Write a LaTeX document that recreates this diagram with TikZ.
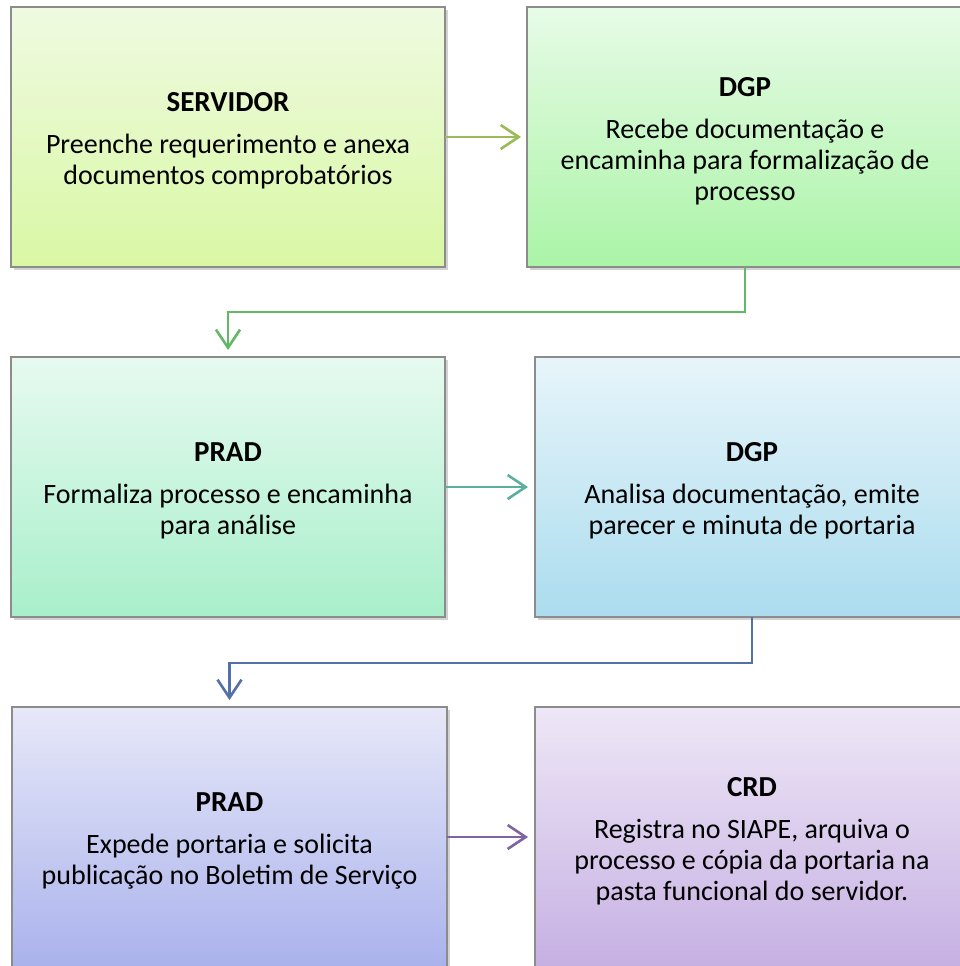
\documentclass[tikz,border=0pt]{standalone}
\usepackage{fontspec}
\setmainfont{Carlito}
\usetikzlibrary{arrows.meta,shadows}
\definecolor{aA}{HTML}{9BBB59}
\definecolor{aB}{HTML}{62B865}
\definecolor{aC}{HTML}{5CAFA0}
\definecolor{aD}{HTML}{5470A8}
\definecolor{aE}{HTML}{8064A2}
\definecolor{t1}{HTML}{EFFAE1}\definecolor{u1}{HTML}{D9F8A4}
\definecolor{t2}{HTML}{E7FBE7}\definecolor{u2}{HTML}{ABF4A6}
\definecolor{t3}{HTML}{E7FAF0}\definecolor{u3}{HTML}{A8EFCB}
\definecolor{t4}{HTML}{E7F5FA}\definecolor{u4}{HTML}{ABDCEE}
\definecolor{t5}{HTML}{E7E8F8}\definecolor{u5}{HTML}{AAB2EC}
\definecolor{t6}{HTML}{EEE7F6}\definecolor{u6}{HTML}{C6B0E3}
\tikzset{
  flowbox/.style={draw=black!45, line width=1.1pt, inner sep=0pt, outer sep=0pt,
    minimum width=#1, minimum height=260pt, align=center,
    font=\fontsize{28}{31}\selectfont,
    drop shadow={opacity=0.35, shadow xshift=3pt, shadow yshift=-3pt}},
  flowbox/.default=434pt,
  conn/.style={line width=2.6pt, -{Straight Barb[length=18pt,width=24pt,line width=2.6pt]}}
}
\newcommand{\ttl}[1]{\rule{0pt}{27pt}{\fontsize{29}{31}\selectfont\textbf{#1}}\\[11pt]}
\begin{document}
\begin{tikzpicture}[x=1pt,y=-1pt]
\clip (0,0) rectangle (960,966);
\useasboundingbox (0,0) rectangle (960,966);
\fill[white] (0,0) rectangle (960,966);
\node[flowbox, top color=t1, bottom color=u1] (b1) at (228,137)
  {\ttl{SERVIDOR}Preenche requerimento e anexa\\documentos comprobatórios};
\node[flowbox=436pt, top color=t2, bottom color=u2] (b2) at (745,137)
  {\ttl{DGP}Recebe documentação e\\encaminha para formalização de\\processo};
\node[flowbox, top color=t3, bottom color=u3] (b3) at (228,487)
  {\ttl{PRAD}Formaliza processo e encaminha\\para análise};
\node[flowbox, top color=t4, bottom color=u4] (b4) at (752,487)
  {\ttl{DGP}Analisa documentação, emite\\parecer e minuta de portaria};
\node[flowbox=435pt, top color=t5, bottom color=u5] (b5) at (229.5,837)
  {\ttl{PRAD}Expede portaria e solicita\\publicação no Boletim de Serviço};
\node[flowbox, top color=t6, bottom color=u6] (b6) at (752,837)
  {\ttl{CRD}Registra no SIAPE, arquiva o\\processo e cópia da portaria na\\pasta funcional do servidor.};
\draw[conn, aA, shorten >=6pt] (b1.east) -- (b2.west);
\draw[conn, aB, shorten >=7pt] (b2.south) -- ++(0,45) -| (b3.north);
\draw[conn, aC, shorten >=7pt] (b3.east) -- (b4.west);
\draw[conn, aD, shorten >=7pt] (b4.south) -- ++(0,46) -| (b5.north);
\draw[conn, aE, shorten >=7pt] (b5.east) -- (b6.west);
\end{tikzpicture}
\end{document}
